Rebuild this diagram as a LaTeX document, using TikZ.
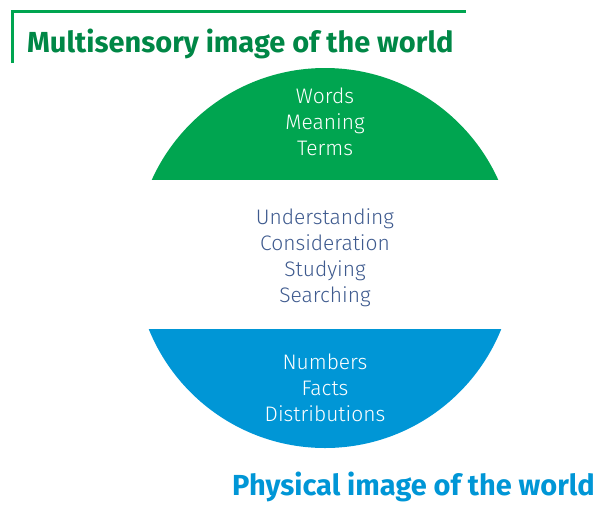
\documentclass[tikz,border=0pt]{standalone}
\usepackage{fontspec}
\setmainfont{Fira Sans}
\newfontfamily\lightfont{Fira Sans Light}
\definecolor{capgreen}{RGB}{0,165,80}
\definecolor{titlegreen}{RGB}{0,135,70}
\definecolor{capblue}{RGB}{0,150,214}
\definecolor{midslate}{RGB}{62,90,142}
\tikzset{
  word/.style={anchor=base, inner sep=0pt, font=\fontsize{21}{24}\lightfont},
  heading/.style={anchor=base west, inner sep=0pt, font=\fontsize{29}{32}\selectfont\bfseries}
}
\begin{document}
\begin{tikzpicture}[x=1pt,y=-1pt]
    \useasboundingbox (0,0) rectangle (607,507);

    % the two caps of the circle
    \begin{scope}
        \clip (325,258) circle (190pt);
        \fill[capgreen] (100,40) rectangle (560,180);
        \fill[capblue] (100,329) rectangle (560,480);
    \end{scope}

    % corner line of the heading
    \draw[capgreen, line width=2.5pt] (12.5,63) -- (12.5,11.5) -- (466,11.5);

    \node[heading, titlegreen] (top) at (27,52) {Multisensory image of the world};
    \node[heading, capblue] (bottom) at (232,495) {Physical image of the world};

    \node[word, white] (words) at (325,103) {Words};
    \node[word, white] (meaning) at (325,129) {Meaning};
    \node[word, white] (terms) at (325,155) {Terms};

    \node[word, midslate] (understanding) at (325,224) {Understanding};
    \node[word, midslate] (consideration) at (325,250) {Consideration};
    \node[word, midslate] (studying) at (325,276) {Studying};
    \node[word, midslate] (searching) at (325,302) {Searching};

    \node[word, white] (numbers) at (325,369) {Numbers};
    \node[word, white] (facts) at (325,395) {Facts};
    \node[word, white] (distributions) at (325,421) {Distributions};
\end{tikzpicture}
\end{document}
